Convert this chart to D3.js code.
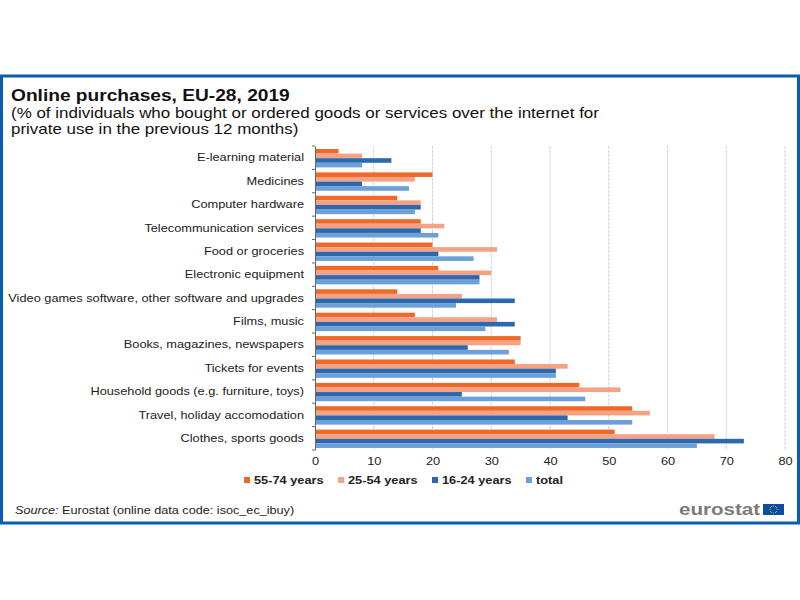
<!DOCTYPE html>
<html><head><meta charset="utf-8">
<script src="https://cdn.jsdelivr.net/npm/d3@7/dist/d3.min.js"></script>
<style>html,body{margin:0;padding:0;background:#fff}svg{display:block}</style></head>
<body><svg id="c" width="800" height="600"></svg>
<script>
const categories=["E-learning material","Medicines","Computer hardware","Telecommunication services","Food or groceries","Electronic equipment","Video games software, other software and upgrades","Films, music","Books, magazines, newspapers","Tickets for events","Household goods (e.g. furniture, toys)","Travel, holiday accomodation","Clothes, sports goods"];
const seriesNames=["55-74 years","25-54 years","16-24 years","total"];
const seriesColors=["#ee6a2a","#f4a184","#2b69ae","#6d9fd8"];
const v55=[4,20,14,18,20,21,14,17,35,34,45,54,51];
const v25=[8,17,18,22,31,30,25,31,35,43,52,57,68];
const v16=[13,8,18,18,21,28,34,34,26,41,25,43,73];
const vTotal=[8,16,17,21,27,28,24,29,33,41,46,54,65];
const values=[v55,v25,v16,vTotal];
const xTicks=[0,10,20,30,40,50,60,70,80];
const font="'Liberation Sans',Arial,sans-serif";
const svg=d3.select("#c");
function stretch(sel,k){sel.each(function(){const n=this;n.setAttribute("textLength",n.getComputedTextLength()*k);n.setAttribute("lengthAdjust","spacingAndGlyphs");});}
svg.append("rect").attr("x",1.5).attr("y",76).attr("width",797).attr("height",447).attr("fill","#fff").attr("stroke","#0a5cb0").attr("stroke-width",3);
const tx=svg.append("g").attr("font-family",font).attr("fill","#111");
stretch(tx.append("text").attr("x",11).attr("y",101).attr("font-size",16.5).attr("font-weight",700).text("Online purchases, EU-28, 2019"),1.16);
stretch(tx.append("text").attr("x",11).attr("y",118).attr("font-size",15).text("(% of individuals who bought or ordered goods or services over the internet for"),1.13);
stretch(tx.append("text").attr("x",11).attr("y",134).attr("font-size",15).text("private use in the previous 12 months)"),1.13);
const x=d3.scaleLinear().domain([0,80]).range([315,785]);
const y=d3.scaleBand().domain(categories).range([146,450]);
const inner=d3.scaleBand().domain(d3.range(4)).range([3,y.bandwidth()-2]);
const g=svg.append("g");
g.append("g").selectAll("line").data(xTicks.slice(1)).join("line")
 .attr("x1",d=>x(d)).attr("x2",d=>x(d)).attr("y1",146).attr("y2",450).attr("stroke","#d2d2d2").attr("stroke-dasharray","3 1");
values.forEach((vals,s)=>{
 g.append("g").attr("fill",seriesColors[s]).selectAll("rect").data(vals).join("rect")
  .attr("x",x(0)).attr("y",(d,i)=>y(categories[i])+inner(s))
  .attr("width",d=>x(d)-x(0)).attr("height",inner.bandwidth());
});
const ax=g.append("g").attr("transform","translate(0,450)").call(d3.axisBottom(x).tickValues(xTicks).tickSize(0).tickPadding(7));
ax.select(".domain").remove();
ax.selectAll("text").attr("font-family",font).attr("font-size",11.5).attr("fill","#222");
stretch(ax.selectAll("text"),1.11);
const ay=g.append("g").attr("transform","translate(315,0)").call(d3.axisLeft(y).tickSize(0).tickPadding(11));
ay.select(".domain").attr("stroke","#666");
ay.selectAll("text").attr("font-family",font).attr("font-size",11.5).attr("fill","#222");
stretch(ay.selectAll("text"),1.11);
g.append("g").selectAll("line").data(d3.range(14)).join("line")
 .attr("x1",312).attr("x2",315)
 .attr("y1",i=>146+i*y.step()).attr("y2",i=>146+i*y.step()).attr("stroke","#666");
const legX=[244,338,432,526];
const leg=svg.append("g").selectAll("g").data(seriesNames).join("g").attr("transform",(d,i)=>`translate(${legX[i]},480)`);
leg.append("rect").attr("y",-3).attr("width",6).attr("height",6).attr("fill",(d,i)=>seriesColors[i]);
stretch(leg.append("text").attr("x",10).attr("y",4).attr("font-family",font).attr("font-size",11.5).attr("font-weight",700).attr("fill","#222").text(d=>d),1.11);
const src=svg.append("text").attr("x",15).attr("y",514).attr("font-family",font).attr("font-size",11.5).attr("fill","#222");
const s1=src.append("tspan").attr("font-style","italic").text("Source:");
const s2=src.append("tspan").text(" Eurostat (online data code: isoc_ec_ibuy)");
src.attr("xml:space","preserve");
stretch(s1,1.1);stretch(s2,1.1);
const eu=svg.append("text").attr("x",679).attr("y",515).attr("font-family",font).attr("font-size",17).attr("font-weight",700).attr("fill","#7a7a7a").text("eurostat");
eu.attr("textLength",81).attr("lengthAdjust","spacingAndGlyphs");
svg.append("rect").attr("x",763).attr("y",504).attr("width",21).attr("height",11).attr("fill","#0b4ea2");
const stars=d3.range(12).map(i=>i*Math.PI/6);
svg.append("g").attr("fill","#f5d20c").selectAll("circle").data(stars).join("circle").attr("cx",d=>773.5+3.6*Math.cos(d)).attr("cy",d=>509.5+3.6*Math.sin(d)).attr("r",0.5);
</script></body></html>
